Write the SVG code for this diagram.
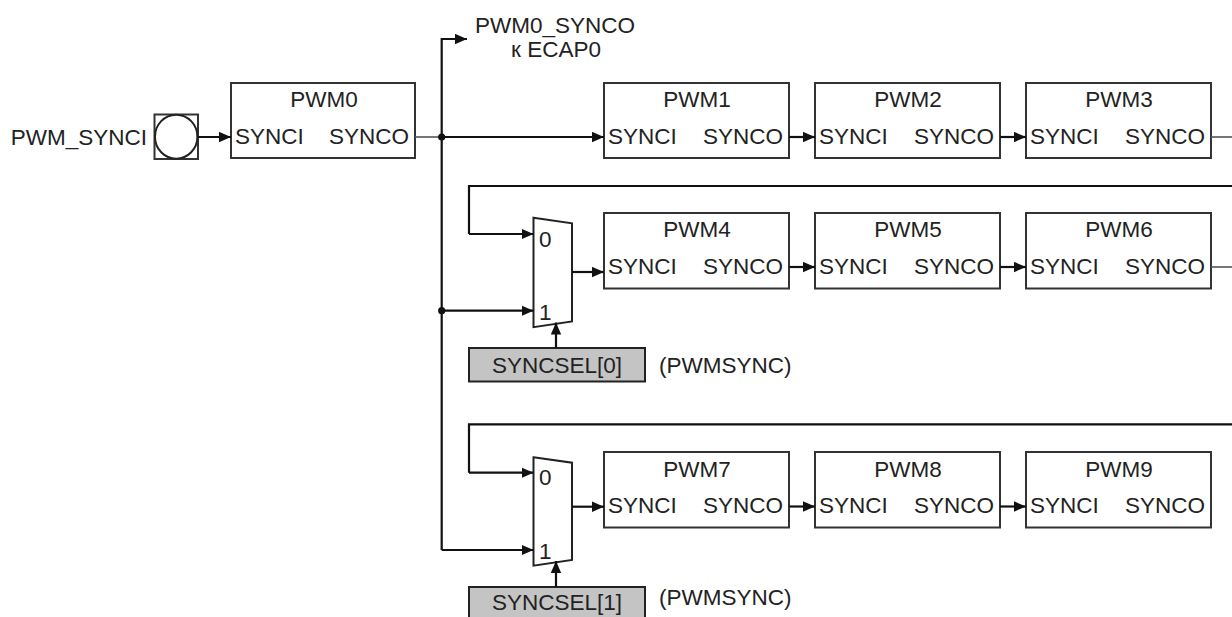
<svg xmlns="http://www.w3.org/2000/svg" width="1232" height="617" viewBox="0 0 1232 617">
<style>
  text { font-family: "Liberation Sans", Arial, sans-serif; font-size: 22.5px; fill: #222; }
  .mid { text-anchor: middle; }
  .end { text-anchor: end; }
  .box { fill: #fff; stroke: #333; stroke-width: 2; }
  .sel { fill: #c4c4c4; stroke: #222; stroke-width: 2; }
  .w { fill: none; stroke: #111; stroke-width: 2.2; }
  .thin { fill: none; stroke: #555; stroke-width: 1.6; }
  .arr { marker-end: url(#ah); }
</style>
<defs>
  <marker id="ah" markerUnits="userSpaceOnUse" markerWidth="12" markerHeight="11" refX="12" refY="5.5" orient="auto">
    <path d="M0,0.3 L12,5.5 L0,10.7 z" fill="#111"/>
  </marker>
</defs>

<g id="input">
  <rect x="154.5" y="114.5" width="43.5" height="44.5" fill="#fff" stroke="#333" stroke-width="2"/>
  <ellipse cx="176.2" cy="136.7" rx="21.2" ry="22" fill="#fff" stroke="#222" stroke-width="2"/>
  <text class="end" x="147" y="145">PWM_SYNCI</text>
</g>

<g id="ecap-label">
  <text class="mid" x="555" y="33">PWM0_SYNCO</text>
  <text class="mid" x="556" y="57">к ECAP0</text>
</g>

<g id="pwm0"><rect class="box" x="231" y="83" width="184" height="75"/><text class="mid" x="324" y="107">PWM0</text><text x="235" y="144">SYNCI</text><text class="end" x="409" y="144">SYNCO</text></g>
<g id="pwm1"><rect class="box" x="604" y="83" width="185" height="75"/><text class="mid" x="697" y="107">PWM1</text><text x="608" y="144">SYNCI</text><text class="end" x="783" y="144">SYNCO</text></g>
<g id="pwm2"><rect class="box" x="815" y="83" width="185" height="75"/><text class="mid" x="908" y="107">PWM2</text><text x="819" y="144">SYNCI</text><text class="end" x="994" y="144">SYNCO</text></g>
<g id="pwm3"><rect class="box" x="1026" y="83" width="185" height="75"/><text class="mid" x="1119" y="107">PWM3</text><text x="1030" y="144">SYNCI</text><text class="end" x="1205" y="144">SYNCO</text></g>

<g id="pwm4"><rect class="box" x="604" y="213" width="185" height="75.5"/><text class="mid" x="697" y="237">PWM4</text><text x="608" y="274">SYNCI</text><text class="end" x="783" y="274">SYNCO</text></g>
<g id="pwm5"><rect class="box" x="815" y="213" width="185" height="75.5"/><text class="mid" x="908" y="237">PWM5</text><text x="819" y="274">SYNCI</text><text class="end" x="994" y="274">SYNCO</text></g>
<g id="pwm6"><rect class="box" x="1026" y="213" width="185" height="75.5"/><text class="mid" x="1119" y="237">PWM6</text><text x="1030" y="274">SYNCI</text><text class="end" x="1205" y="274">SYNCO</text></g>

<g id="pwm7"><rect class="box" x="604" y="452" width="185" height="75.5"/><text class="mid" x="697" y="477">PWM7</text><text x="608" y="513">SYNCI</text><text class="end" x="783" y="513">SYNCO</text></g>
<g id="pwm8"><rect class="box" x="815" y="452" width="185" height="75.5"/><text class="mid" x="908" y="477">PWM8</text><text x="819" y="513">SYNCI</text><text class="end" x="994" y="513">SYNCO</text></g>
<g id="pwm9"><rect class="box" x="1026" y="452" width="185" height="75.5"/><text class="mid" x="1119" y="477">PWM9</text><text x="1030" y="513">SYNCI</text><text class="end" x="1205" y="513">SYNCO</text></g>

<g id="mux0">
  <polygon points="533.5,217.7 572,223.3 572,321.5 533.5,327.2" fill="#fff" stroke="#222" stroke-width="2"/>
  <text x="539" y="247">0</text>
  <text x="539" y="320">1</text>
</g>
<g id="mux1">
  <polygon points="533.5,457.3 572,462.7 572,560 533.5,565.7" fill="#fff" stroke="#222" stroke-width="2"/>
  <text x="539" y="485">0</text>
  <text x="539" y="559">1</text>
</g>

<g id="syncsel0">
  <rect class="sel" x="469" y="348" width="176" height="33.5"/>
  <text class="mid" x="557" y="373">SYNCSEL[0]</text>
  <text x="659" y="373">(PWMSYNC)</text>
</g>
<g id="syncsel1">
  <rect class="sel" x="469" y="587" width="176" height="40"/>
  <text class="mid" x="557" y="610">SYNCSEL[1]</text>
  <text x="659" y="605">(PWMSYNC)</text>
</g>

<g id="connectors">
  <path class="w arr" d="M198,137 H231"/>
  <path class="thin" d="M415,137 H441.7"/>
  <path class="w arr" d="M441.7,137 H604"/>
  <path class="w arr" d="M441.7,137 V39 H467"/>
  <path class="w" d="M441.7,137 V550"/>
  <circle cx="441.7" cy="137" r="3.6" fill="#111"/>
  <path class="w arr" d="M789,137 H815"/>
  <path class="w arr" d="M1000,137 H1026"/>
  <path class="thin" d="M1211,137 H1232"/>
  <path class="w" d="M1232,186 H469 V234"/>
  <path class="w arr" d="M469,234 H533.5"/>
  <path class="w arr" d="M441.7,310.7 H533.5"/>
  <circle cx="441.7" cy="310.7" r="3.6" fill="#111"/>
  <path class="w arr" d="M556,348 V322.5"/>
  <path class="w arr" d="M572,272 H604"/>
  <path class="w arr" d="M789,267 H815"/>
  <path class="w arr" d="M1000,267 H1026"/>
  <path class="thin" d="M1211,267 H1232"/>
  <path class="w" d="M1232,424.3 H469 V472.7"/>
  <path class="w arr" d="M469,472.7 H533.5"/>
  <path class="w arr" d="M441.7,550 H533.5"/>
  <path class="w arr" d="M556,587 V561"/>
  <path class="w arr" d="M572,506.7 H604"/>
  <path class="w arr" d="M789,506.5 H815"/>
  <path class="w arr" d="M1000,506.5 H1026"/>
</g>
</svg>
